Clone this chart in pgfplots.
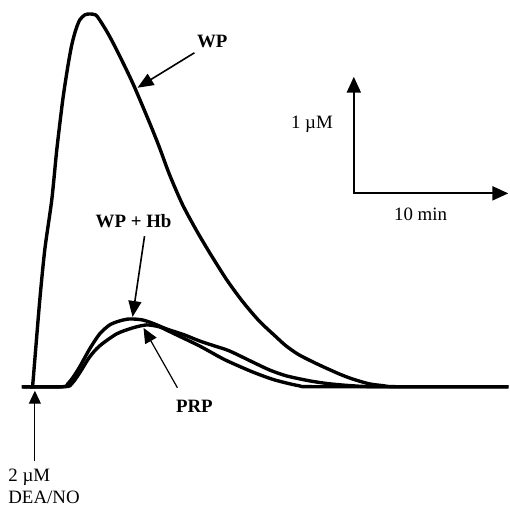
\documentclass[border=0pt]{standalone}
\usepackage{fontspec}
\setmainfont{Liberation Serif}
\usepackage{pgfplots}
\pgfplotsset{compat=1.18}
\usetikzlibrary{arrows.meta}

% NO release traces after a 2 uM DEA/NO bolus (coordinates in drawing units, y downwards)
\pgfplotstableread{
x y
22 388
32 388
33 384
35 360
40 300
45 250
52 200
57 150
63 100
68 67
72 45
76 30
80 20
85 15
90 14
96 15
100 20
108 33
117 50
133 83
150 123
160 148
170 175
183 205
197 231
210 253
227 280
243 302
260 322
277 338
287 347
300 356
320 366
340 375
353 380
370 385
385 387
400 388
510 388
}\wp

\pgfplotstableread{
x y
22 388
63 388
68 385
73 379
80 368
90 350
100 335
110 326
120 322
130 320
143 321
155 325
167 330
185 336
200 342
215 347
230 352
253 363
270 371
287 377
310 382
330 385
353 387
380 388
510 388
}\wphb

\pgfplotstableread{
x y
22 388
65 388
72 385
80 374
90 358
100 347
117 335
133 329
147 326
160 328
173 334
200 347
220 358
230 363
253 373
275 381
300 387
320 388
510 388
}\prp

\begin{document}
\begin{tikzpicture}[font=\fontsize{9.5}{11}\selectfont]
\begin{axis}[
  scale only axis, width=255bp, height=253.5bp,
  xmin=0, xmax=510, ymin=0, ymax=507, y dir=reverse,
  hide axis, clip=false,
]
\path (axis cs:0,0) rectangle (axis cs:510,507);
\addplot[black, line width=1.7bp, smooth, tension=0.45] table[x=x,y=y] {\wp};
\addplot[black, line width=1.7bp, smooth, tension=0.45] table[x=x,y=y] {\wphb};
\addplot[black, line width=1.7bp, smooth, tension=0.45] table[x=x,y=y] {\prp};

% curve labels
\node[font=\fontsize{9.5}{11}\selectfont\bfseries] at (axis cs:213,42) {WP};
\draw[line width=0.8bp, -{Triangle[length=8bp,width=6.5bp]}] (axis cs:195,53) -- (axis cs:138,88);
\node[font=\fontsize{9.5}{11}\selectfont\bfseries] at (axis cs:134,222) {WP + Hb};
\draw[line width=0.8bp, -{Triangle[length=8bp,width=6.5bp]}] (axis cs:145,237) -- (axis cs:133,318);
\node[font=\fontsize{9.5}{11}\selectfont\bfseries] at (axis cs:195,408) {PRP};
\draw[line width=0.6bp, -{Triangle[length=7.5bp,width=6.5bp]}] (axis cs:178,389) -- (axis cs:144,329);

% injection marker
\draw[line width=0.6bp, -{Triangle[length=6.5bp,width=6bp]}] (axis cs:35,463) -- (axis cs:35,392);
\node[anchor=west, inner sep=0pt] at (axis cs:8,479) {2 µM};
\node[anchor=west, inner sep=0pt] at (axis cs:8,499) {DEA/NO};

% scale bars
\draw[line width=1.1bp, {Triangle[length=8bp,width=7bp]}-{Triangle[length=8bp,width=7bp]}]
  (axis cs:355,77) -- (axis cs:355,194) -- (axis cs:510,194);
\node at (axis cs:313,125) {1 µM};
\node at (axis cs:422,215) {10 min};
\end{axis}
\end{tikzpicture}
\end{document}
